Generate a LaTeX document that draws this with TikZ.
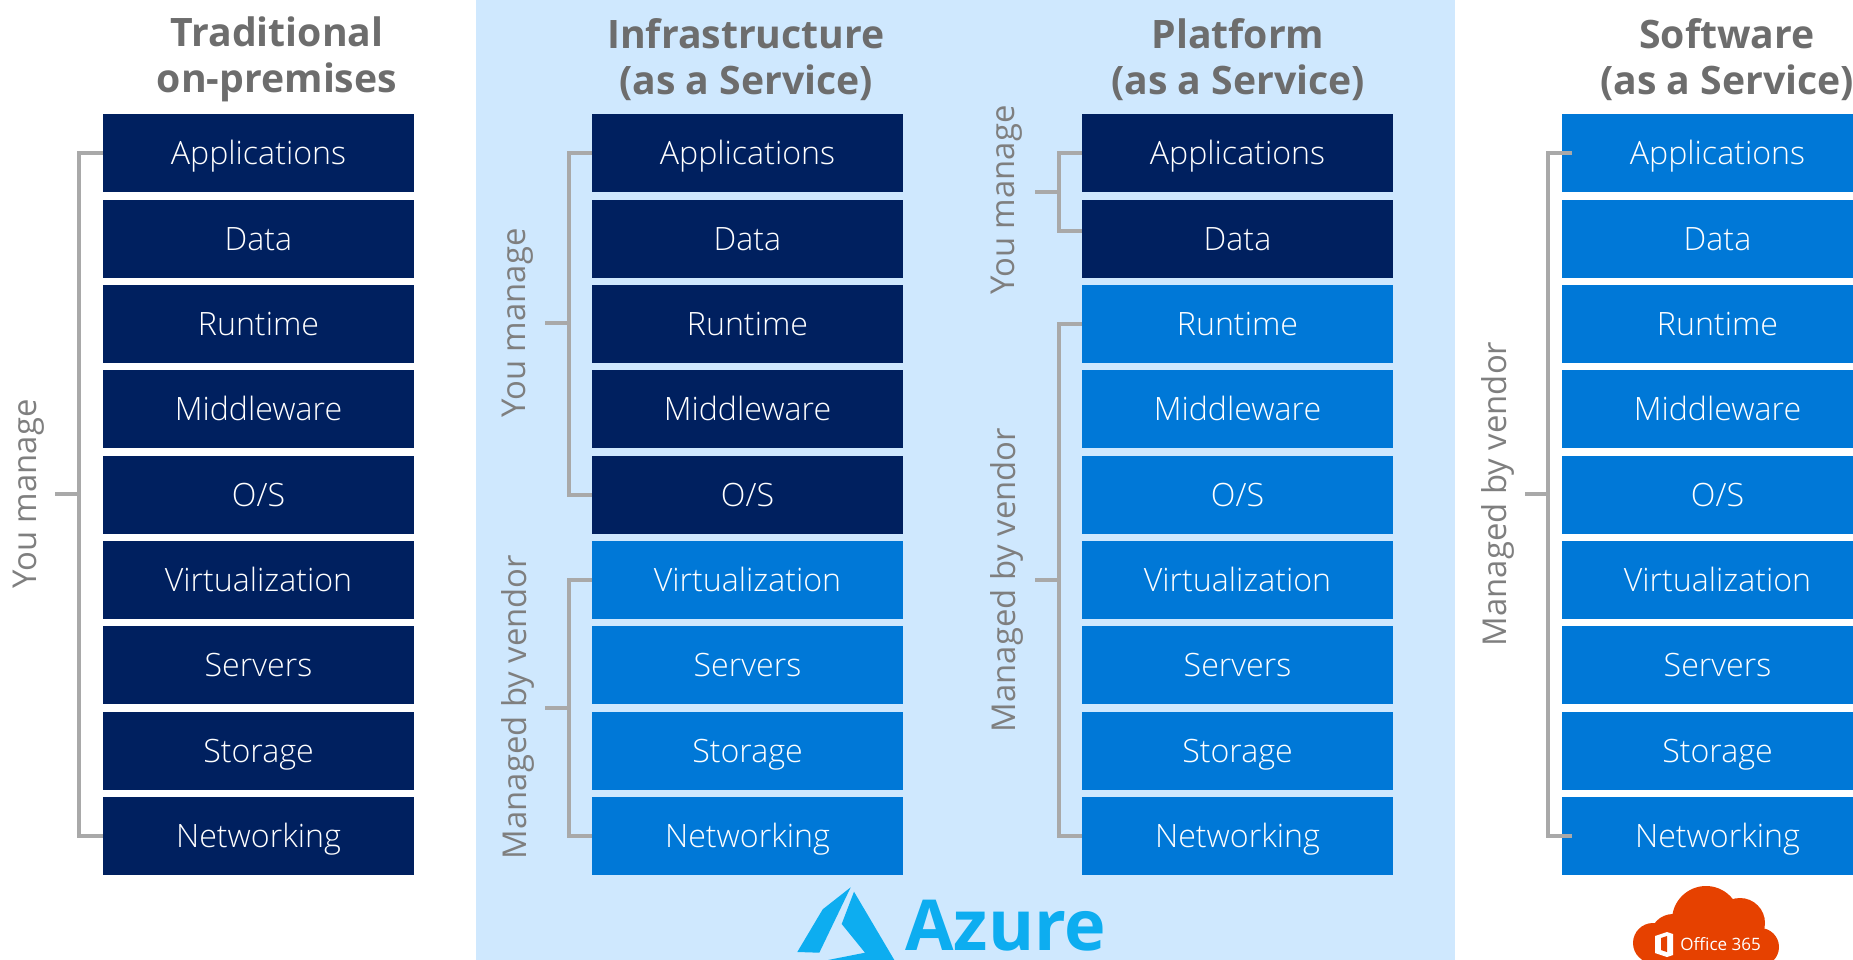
\documentclass[tikz,border=0pt]{standalone}
\usepackage{fontspec}
\setmainfont{Open Sans}
\newfontfamily\thinfont{Open Sans Light}
\definecolor{one}{HTML}{00205F}
\definecolor{two}{HTML}{0078D7}
\definecolor{panel}{HTML}{CFE8FE}
\definecolor{brace}{HTML}{A9A9A9}
\definecolor{head}{HTML}{6D6D6D}
\definecolor{side}{HTML}{7F7F7F}
\definecolor{azure}{HTML}{0DADF0}
\definecolor{office}{HTML}{E64100}
\tikzset{
  cell/.style={minimum width=0.02cm*311,minimum height=0.02cm*78,inner sep=0pt,text=white,
    text height=0.54cm,text depth=0.1cm,font=\thinfont\fontsize{18.3}{22}\selectfont},
  mine/.style={cell,fill=one},
  vend/.style={cell,fill=two},
  title/.style={align=center,text=head,font=\fontsize{22.3}{26.2}\selectfont\bfseries},
  sidelabel/.style={rotate=90,text=side,font=\fontsize{18.7}{23}\selectfont},
  bracket/.style={brace,line width=0.07cm}
}
\begin{document}
\begin{tikzpicture}[x=0.02cm,y=-0.02cm]

\clip (0,0) rectangle (1853,960);
\useasboundingbox (0,0) rectangle (1853,960);
\fill[panel] (476,0) rectangle (1455,960);

\node[title] (titleA) at (277,59.5) {Traditional\\on-premises};
\node[title] (titleB) at (746,59.5) {Infrastructure\\(as a Service)};
\node[title] (titleC) at (1238,59.5) {Platform\\(as a Service)};
\node[title] (titleD) at (1727,59.5) {Software\\(as a Service)};

\draw[solid]

(258.5,153) node[mine] (A1) {Applications}
(258.5,239) node[mine] (A2) {Data}
(258.5,324) node[mine] (A3) {Runtime}
(258.5,409) node[mine] (A4) {Middleware}
(258.5,495) node[mine] (A5) {O/S}
(258.5,580) node[mine] (A6) {Virtualization}
(258.5,665) node[mine] (A7) {Servers}
(258.5,751) node[mine] (A8) {Storage}
(258.5,836) node[mine] (A9) {Networking}

(747.5,153) node[mine] (B1) {Applications}
(747.5,239) node[mine] (B2) {Data}
(747.5,324) node[mine] (B3) {Runtime}
(747.5,409) node[mine] (B4) {Middleware}
(747.5,495) node[mine] (B5) {O/S}
(747.5,580) node[vend] (B6) {Virtualization}
(747.5,665) node[vend] (B7) {Servers}
(747.5,751) node[vend] (B8) {Storage}
(747.5,836) node[vend] (B9) {Networking}

(1237.5,153) node[mine] (C1) {Applications}
(1237.5,239) node[mine] (C2) {Data}
(1237.5,324) node[vend] (C3) {Runtime}
(1237.5,409) node[vend] (C4) {Middleware}
(1237.5,495) node[vend] (C5) {O/S}
(1237.5,580) node[vend] (C6) {Virtualization}
(1237.5,665) node[vend] (C7) {Servers}
(1237.5,751) node[vend] (C8) {Storage}
(1237.5,836) node[vend] (C9) {Networking}

(1717.5,153) node[vend] (D1) {Applications}
(1717.5,239) node[vend] (D2) {Data}
(1717.5,324) node[vend] (D3) {Runtime}
(1717.5,409) node[vend] (D4) {Middleware}
(1717.5,495) node[vend] (D5) {O/S}
(1717.5,580) node[vend] (D6) {Virtualization}
(1717.5,665) node[vend] (D7) {Servers}
(1717.5,751) node[vend] (D8) {Storage}
(1717.5,836) node[vend] (D9) {Networking};

\node[sidelabel] (youA) at (28.5,494) {You manage};
\node[sidelabel] (youB) at (518,323) {You manage};
\node[sidelabel] (venB) at (518,707) {Managed by vendor};
\node[sidelabel] (youC) at (1006.5,200) {You manage};
\node[sidelabel] (venC) at (1006.5,580) {Managed by vendor};
\node[sidelabel] (venD) at (1498,494) {Managed by vendor};

\coordinate (spineA) at (79,494);
\coordinate (stemA) at (55,494);
\coordinate (spineB) at (569,323);
\coordinate (stemB) at (545,323);
\coordinate (spineV) at (569,708);
\coordinate (stemV) at (545,708);
\coordinate (spineC) at (1059,192);
\coordinate (stemC) at (1035,192);
\coordinate (spineW) at (1059,580);
\coordinate (stemW) at (1035,580);
\coordinate (spineD) at (1548,494);
\coordinate (stemD) at (1525,494);

\draw[bracket] (A1.west) -| (spineA) |- (A9.west);
\draw[bracket] (stemA) -- (spineA);
\draw[bracket] (B1.west) -| (spineB) |- (B5.west);
\draw[bracket] (stemB) -- (spineB);
\draw[bracket] (B6.west) -| (spineV) |- (B9.west);
\draw[bracket] (stemV) -- (spineV);
\draw[bracket] (C1.west) -| (spineC) |- ([yshift=0.16cm]C2.west);
\draw[bracket] (stemC) -- (spineC);
\draw[bracket] (C3.west) -| (spineW) |- (C9.west);
\draw[bracket] (stemW) -- (spineW);
\draw[bracket] ([xshift=0.2cm]D1.west) -| (spineD) |- ([xshift=0.2cm]D9.west);
\draw[bracket] (stemD) -- (spineD);

% azure logo
\fill[azure] (850.7,887.3) -- (822.7,909.3) -- (797.3,952) -- (819.3,952.7) -- cycle;
\fill[azure] (854,891.7) -- (841.7,924) -- (865,952.7) -- (828,960) -- (894.3,960) -- cycle;
\node[anchor=base west,inner sep=0pt,text=azure,font=\fontsize{40}{48}\selectfont\bfseries] (azurename) at (905,950) {Azure};

% office cloud
\fill[office] (1706,920) circle (34);
\fill[office] (1740,923) circle (25);
\fill[office] (1673,937) circle (23);
\fill[office] (1653,943) circle (20);
\fill[office] (1760,947) circle (19);
\fill[office] (1653,930) rectangle (1760,960);
\fill[white] (1655,936) -- (1667,932) -- (1673,934) -- (1673,955) -- (1667,957) -- (1655,953) -- cycle;
\fill[office] (1661,938) -- (1667,936) -- (1667,952) -- (1661,950) -- cycle;
\node[anchor=base west,inner sep=0pt,text=white,font=\fontsize{9.7}{12}\selectfont] (officename) at (1680,950.5) {Office 365};

\end{tikzpicture}
\end{document}
